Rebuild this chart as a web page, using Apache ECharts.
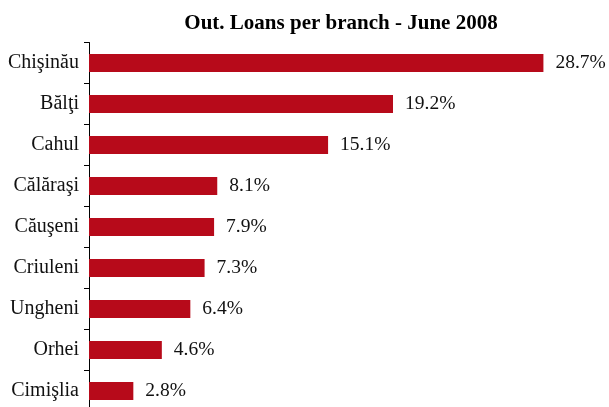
<!doctype html>
<meta charset="utf-8">
<style>
  html, body { margin: 0; background: #fff; }
  #chart { width: 609px; height: 407px; }
</style>
<script src="https://cdn.jsdelivr.net/npm/echarts@6/dist/echarts.min.js"></script>
<div id="chart"></div>
<script>
  const branches = ['Chişinău', 'Bălţi', 'Cahul', 'Călăraşi', 'Căuşeni', 'Criuleni', 'Ungheni', 'Orhei', 'Cimişlia']
  const loanShare = [28.7, 19.2, 15.1, 8.1, 7.9, 7.3, 6.4, 4.6, 2.8]

  const serif = '"Liberation Serif", "DejaVu Serif", serif'
  let chart = echarts.init(document.getElementById('chart'))
  chart.setOption({
    animation: false,
    title: {
      text: 'Out. Loans per branch - June 2008',
      left: 336,
      textAlign: 'center',
      top: 8,
      textStyle: { fontFamily: serif, fontWeight: 'bold', fontSize: 21, color: '#000' },
    },
    grid: { left: 89, top: 42.5, width: 475, height: 369, outerBoundsMode: 'none' },
    xAxis: {
      type: 'value',
      min: 0,
      max: 30,
      show: false,
    },
    yAxis: {
      type: 'category',
      data: branches,
      inverse: true,
      axisLine: { lineStyle: { color: '#000', width: 1 } },
      axisTick: { show: true, length: 5, lineStyle: { color: '#000' } },
      axisLabel: { fontFamily: serif, fontSize: 20, color: '#111', margin: 10 },
    },
    series: [{
      type: 'bar',
      data: loanShare,
      barWidth: 18,
      itemStyle: { color: '#B70A1A' },
      label: {
        show: true,
        position: 'right',
        distance: 12,
        formatter: p => p.value.toFixed(1) + '%',
        fontFamily: serif,
        fontSize: 19.5,
        color: '#111',
      },
    }],
  })
</script>
